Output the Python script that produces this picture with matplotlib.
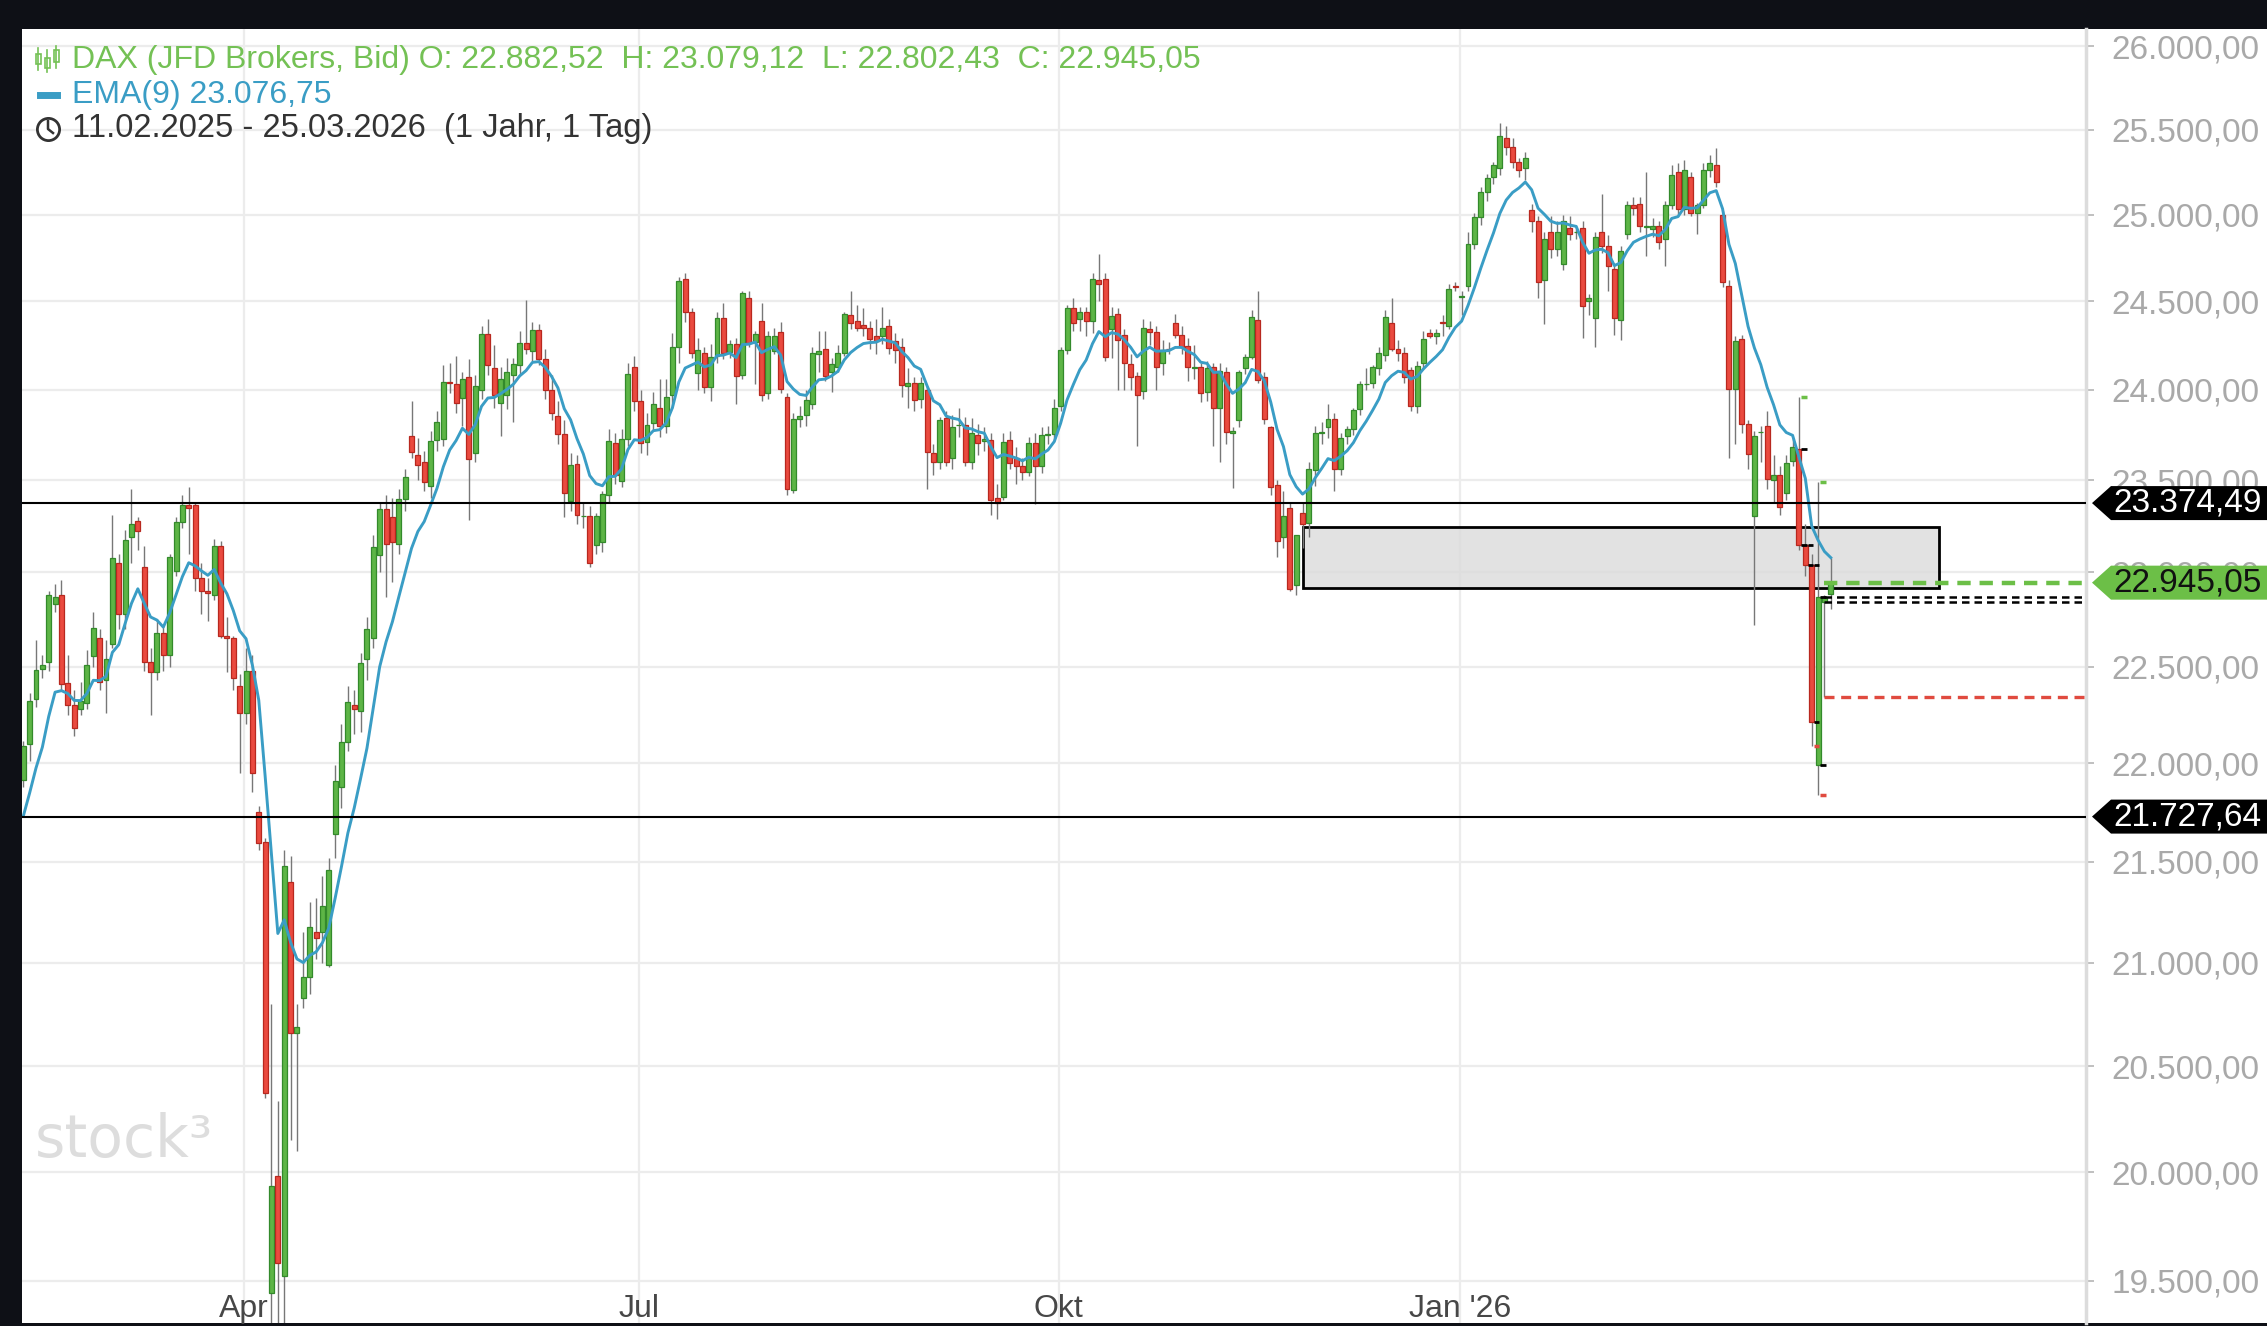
import numpy as np
import pandas as pd
import matplotlib
matplotlib.use("Agg")
import matplotlib.pyplot as plt
from matplotlib.patches import Rectangle, Polygon
from matplotlib.lines import Line2D
from matplotlib.ticker import FixedLocator, FuncFormatter, NullLocator
from matplotlib.transforms import blended_transform_factory

plt.rcParams['font.family'] = ['Liberation Sans', 'DejaVu Sans']

# daily candles 11.02.2025 - 25.03.2026 (10 per row)
opens = [
    21916, 22100, 22330, 22490, 22527, 22830, 22877, 22415, 22300, 22280,
    22310, 22555, 22650, 22430, 22620, 23050, 22778, 23190, 23275, 23030,
    22527, 22470, 22680, 22560, 23010, 23270, 23365, 23365, 22968, 22900,
    22880, 23140, 22660, 22650, 22400, 22260, 22480, 21750, 21600, 19443,
    19980, 19520, 21400, 20660, 20830, 20930, 21150, 21150, 20990, 21640,
    21880, 22110, 22300, 22270, 22540, 22650, 23092, 23343, 23300, 23154,
    23395, 23744, 23640, 23600, 23470, 23720, 23725, 24045, 24030, 23955,
    24070, 23650, 24000, 24315, 24120, 23925, 23970, 24085, 24140, 24265,
    24218, 24338, 24170, 24000, 23855, 23755, 23385, 23590, 23305, 23305,
    23145, 23165, 23416, 23705, 23495, 23725, 24125, 23935, 23710, 23815,
    23900, 23800, 23970, 24243, 24625, 24440, 24092, 24207, 24017, 24190,
    24403, 24212, 24260, 24080, 24520, 24270, 24390, 23980, 24220, 24325,
    23960, 23445, 23835, 23860, 23920, 24200, 24228, 24100, 24128, 24207,
    24420, 24385, 24365, 24350, 24300, 24300, 24360, 24277, 24240, 24020,
    24040, 23950, 23998, 23650, 23600, 23840, 23620, 23805, 23805, 23600,
    23750, 23715, 23720, 23400, 23410, 23720, 23622, 23580, 23545, 23705,
    23580, 23748, 23755, 23908, 24225, 24460, 24400, 24440, 24385, 24620,
    24630, 24345, 24430, 24310, 24147, 24075, 23994, 24340, 24325, 24150,
    24230, 24375, 24310, 24245, 24120, 24125, 23990, 24130, 23896, 24100,
    23760, 23832, 24120, 24185, 24395, 24073, 23790, 23472, 23190, 23350,
    22930, 23320, 23265, 23555, 23760, 23795, 23835, 23563, 23742, 23780,
    23890, 24035, 24040, 24120, 24195, 24375, 24230, 24205, 24110, 23910,
    24150, 24320, 24300, 24380, 24360, 24585, 24525, 24585, 24830, 24985,
    25134, 25221, 25275, 25452, 25398, 25307, 25275, 25025, 24963, 24620,
    24897, 24800, 24711, 24920, 24897, 24923, 24500, 24406, 24897, 24816,
    24683, 24395, 24885, 25055, 25060, 24930, 24915, 24935, 24856, 25058,
    25250, 25031, 25221, 25010, 25058, 25261, 25289, 25000, 24590, 24002,
    24288, 23811, 23304, 23765, 23800, 23500, 23530, 23429, 23606, 23670,
    23146, 23040, 21990, 22840, 22882.52,
]
highs = [
    22115, 22360, 22640, 22560, 22900, 22940, 22960, 22560, 22380, 22420,
    22590, 22790, 22700, 22640, 23310, 23100, 23230, 23450, 23300, 23140,
    22600, 22750, 22720, 23100, 23300, 23420, 23460, 23380, 23050, 22970,
    23180, 23170, 22760, 22660, 22460, 22600, 22560, 21780, 21620, 20800,
    20333, 21560, 21530, 20800, 21150, 21300, 21320, 21430, 21520, 21990,
    22200, 22400, 22380, 22570, 22760, 23200, 23380, 23420, 23400, 23450,
    23560, 23940, 23730, 23660, 23770, 23880, 24140, 24150, 24190, 24100,
    24170, 24080, 24360, 24400, 24250, 24130, 24180, 24180, 24330, 24510,
    24380, 24370, 24230, 24080, 23940, 23830, 23650, 23640, 23380, 23360,
    23320, 23440, 23780, 23760, 23780, 24150, 24190, 24000, 23870, 23990,
    24060, 24060, 24320, 24640, 24660, 24460, 24290, 24240, 24260, 24440,
    24490, 24280, 24290, 24560, 24560, 24330, 24490, 24330, 24350, 24380,
    23980, 23870, 23910, 24000, 24240, 24330, 24330, 24180, 24250, 24440,
    24560, 24480, 24460, 24390, 24400, 24470, 24400, 24320, 24290, 24120,
    24070, 24070, 24020, 23700, 23850, 23880, 23860, 23900, 23850, 23840,
    23810, 23790, 23760, 23480, 23760, 23770, 23680, 23620, 23740, 23760,
    23790, 23800, 23950, 24240, 24480, 24520, 24470, 24470, 24660, 24770,
    24660, 24470, 24460, 24340, 24200, 24100, 24400, 24390, 24360, 24280,
    24270, 24430, 24360, 24290, 24250, 24150, 24160, 24150, 24150, 24130,
    23790, 24110, 24200, 24450, 24560, 24100, 23800, 23500, 23440, 23380,
    23200, 23380, 23600, 23800, 23820, 23920, 23870, 23760, 23800, 23900,
    24050, 24120, 24140, 24240, 24450, 24520, 24280, 24240, 24130, 24160,
    24330, 24340, 24340, 24420, 24600, 24610, 24560, 24900, 25010, 25160,
    25240, 25310, 25540, 25520, 25450, 25330, 25370, 25060, 24990, 24900,
    24990, 24960, 25000, 24990, 24930, 24960, 24540, 24900, 25120, 24880,
    24720, 24820, 25080, 25100, 25100, 25250, 24980, 24960, 25080, 25290,
    25300, 25320, 25250, 25070, 25300, 25350, 25390, 25020, 24620, 24300,
    24310, 23830, 23770, 23800, 23880, 23640, 23580, 23640, 23730, 23960,
    23260, 23100, 23492, 22880, 23079.12,
]
lows = [
    21880, 22010, 22290, 22440, 22480, 22790, 22380, 22250, 22140, 22250,
    22280, 22500, 22380, 22260, 22600, 22700, 22700, 23050, 23120, 22480,
    22250, 22430, 22480, 22500, 22980, 23240, 23100, 22900, 22780, 22740,
    22850, 22650, 22470, 22380, 21950, 22200, 21850, 21560, 20350, 18800,
    19200, 19300, 20150, 20100, 20780, 20850, 21020, 21000, 20980, 21520,
    21770, 22060, 22150, 22160, 22430, 22600, 23000, 22870, 22950, 23100,
    23330, 23620, 23500, 23440, 23400, 23660, 23690, 23980, 23870, 23800,
    23280, 23600, 23950, 24080, 23900, 23745, 23890, 23820, 24080, 24200,
    24160, 24140, 23950, 23830, 23700, 23300, 23330, 23260, 23240, 23030,
    23100, 23110, 23380, 23480, 23460, 23690, 23880, 23650, 23640, 23770,
    23740, 23760, 23900, 24150, 24380, 24180, 24000, 23980, 23940, 24150,
    24170, 24180, 23920, 24060, 24240, 24030, 23940, 23950, 24200, 23980,
    23420, 23430, 23790, 23800, 23890, 24100, 24050, 23990, 24100, 24190,
    24340, 24330, 24300, 24230, 24200, 24260, 24200, 24150, 23960, 23900,
    23880, 23900, 23450, 23530, 23560, 23580, 23560, 23740, 23580, 23560,
    23640, 23660, 23310, 23290, 23390, 23560, 23480, 23500, 23520, 23370,
    23540, 23700, 23720, 23880, 24200, 24330, 24330, 24300, 24320, 24500,
    24160, 24180, 24000, 24000, 24000, 23686, 23950, 24250, 24000, 24080,
    24200, 24290, 24200, 24050, 24060, 23930, 23940, 23690, 23600, 23700,
    23455, 23790, 24090, 24170, 24040, 23810, 23420, 23080, 23130, 22900,
    22880, 23130, 23190, 23470, 23700, 23730, 23440, 23530, 23700, 23750,
    23860, 24000, 24010, 24080, 24160, 24220, 24160, 24040, 23880, 23870,
    24120, 24290, 24260, 24300, 24340, 24560, 24420, 24560, 24800, 24940,
    25080, 25180, 25230, 25350, 25270, 25220, 25200, 24900, 24520, 24370,
    24750, 24760, 24680, 24850, 24860, 24290, 24420, 24240, 24780, 24560,
    24310, 24280, 24860, 25000, 24900, 24760, 24870, 24800, 24700, 25030,
    24990, 25000, 24990, 24885, 25040, 25220, 25160, 24580, 23620, 23700,
    23760, 23560, 22720, 23600, 23450, 23380, 23310, 23390, 23580, 23120,
    22980, 22090, 21838, 22344, 22802.43,
]
closes = [
    22086, 22321, 22485, 22510, 22877, 22870, 22407, 22300, 22180, 22320,
    22510, 22702, 22420, 22540, 23078, 22778, 23173, 23262, 23225, 22527,
    22470, 22680, 22560, 23080, 23270, 23365, 23350, 22968, 22900, 22890,
    23140, 22660, 22650, 22440, 22260, 22480, 21950, 21595, 20372, 19935,
    19580, 21480, 20660, 20690, 20930, 21177, 21120, 21280, 21458, 21910,
    22110, 22315, 22280, 22520, 22700, 23135, 23343, 23154, 23164, 23395,
    23515, 23654, 23585, 23490, 23717, 23823, 24045, 24036, 23925, 24058,
    23617, 24020, 24315, 24140, 23970, 24060, 24100, 24145, 24265, 24228,
    24338, 24175, 24000, 23870, 23755, 23427, 23585, 23311, 23305, 23050,
    23305, 23422, 23717, 23530, 23725, 24090, 23940, 23703, 23804, 23920,
    23800, 23960, 24243, 24615, 24437, 24207, 24222, 24017, 24185, 24403,
    24205, 24255, 24077, 24549, 24265, 24315, 23970, 24302, 24302, 24007,
    23450, 23835, 23855, 23945, 24207, 24215, 24077, 24147, 24207, 24425,
    24375, 24350, 24350, 24287, 24277, 24350, 24232, 24225, 24026, 24040,
    23942, 24040, 23656, 23600, 23830, 23600, 23795, 23805, 23600, 23760,
    23705, 23725, 23394, 23375, 23712, 23596, 23578, 23545, 23705, 23580,
    23748, 23755, 23900, 24222, 24460, 24378, 24440, 24385, 24630, 24600,
    24182, 24415, 24280, 24150, 24070, 23970, 24350, 24325, 24125, 24225,
    24227, 24310, 24240, 24125, 24125, 23983, 24120, 23896, 24106, 23766,
    23770, 24100, 24185, 24410, 24054, 23837, 23463, 23170, 23305, 22913,
    23200, 23260, 23563, 23760, 23766, 23835, 23563, 23730, 23780, 23887,
    24032, 24035, 24125, 24205, 24410, 24230, 24205, 24070, 23910, 24132,
    24288, 24300, 24320, 24378, 24570, 24580, 24530, 24830, 24985, 25134,
    25215, 25289, 25460, 25398, 25307, 25261, 25330, 24963, 24608, 24856,
    24803, 24897, 24963, 24890, 24900, 24475, 24519, 24870, 24816, 24700,
    24406, 24790, 25058, 25040, 24935, 24935, 24935, 24843, 25058, 25234,
    25031, 25261, 25010, 25055, 25261, 25300, 25190, 24608, 24002, 24275,
    23811, 23645, 23745, 23765, 23505, 23530, 23354, 23594, 23683, 23146,
    23042, 22212, 22867, 22870, 22945.05,
]
ema_seed = 21640          # EMA value before the first candle

month_labels = ["Apr", "Jul", "Okt", "Jan '26"]
month_first = [35, 97, 163, 226]      # index of first candle in that month

price_ticks = [19500, 20000, 20500, 21000, 21500, 22000, 22500, 23000,
               23500, 24000, 24500, 25000, 25500, 26000]
resistance = 23374.49
support = 21727.64
zone_low, zone_high = 22918, 23246
zone_from, zone_to = 201, 301
tick_days = [279, 280, 281, 282]
high_tick_days = [279, 282]
low_tick_days = [281, 282]

o = np.array(opens, float)
h = np.array(highs, float)
l = np.array(lows, float)
c = np.array(closes, float)
n = len(c)
idx = np.arange(n)
ema = pd.Series([ema_seed] + closes).ewm(span=9, adjust=False).mean().values[1:]

W, H = 2267, 1326
def fx(x):
    return x / W
def fy(y):
    return 1 - y / H

def de(v, pos=None):
    s = f"{v:,.2f}"
    return s.replace(",", "X").replace(".", ",").replace("X", ".")

fig = plt.figure(figsize=(W / 100, H / 100), dpi=100, facecolor='#0e1016')
fig.add_artist(Rectangle((fx(22), fy(1323)), 1 - fx(22), (1323 - 29) / H,
                         transform=fig.transFigure, facecolor='white',
                         edgecolor='none', zorder=-1))

ax = fig.add_axes([fx(22), fy(1323), fx(2086 - 22), (1323 - 29) / H])
ax.set_facecolor('white')
ax.set_yscale('log')

GREEN, GREEN_E = '#5db546', '#338a2b'
RED, RED_E = '#ea4a3f', '#b8281f'

ax.vlines(idx, l, h, color='#777777', lw=1.0, zorder=2.8)
up = c >= o
bottom = np.minimum(o, c)
height = np.abs(c - o)
ax.bar(idx[up], height[up], bottom=bottom[up], width=0.78,
       color=GREEN, edgecolor=GREEN_E, lw=0.9, zorder=3)
ax.bar(idx[~up], height[~up], bottom=bottom[~up], width=0.78,
       color=RED, edgecolor=RED_E, lw=0.9, zorder=3)

ax.plot(idx, ema, color='#3a9dc5', lw=2.1, zorder=4, solid_joinstyle='round')

# zone box
ax.add_patch(Rectangle((zone_from, zone_low), zone_to - zone_from, zone_high - zone_low,
                       facecolor=(0.86, 0.86, 0.86, 0.8), edgecolor='black',
                       lw=2.0, zorder=2))

ax.axhline(resistance, color='black', lw=1.5, zorder=5)
ax.axhline(support, color='black', lw=1.5, zorder=5)

x_right = 324.1
ax.hlines(c[-1], n - 2, x_right, color='#6cbf47', lw=3.2, linestyles=(0, (3, 2)), zorder=5)
ax.hlines([o[-2], c[-2]], n - 2, x_right, color='black', lw=1.8, linestyles=(0, (3, 2)), zorder=5)
ax.hlines(l[-2], n - 2, x_right, color='#e04a3f', lw=2.4, linestyles=(0, (3, 2)), zorder=5)

# small OHLC ticks on the last sessions
for i in tick_days:
    ax.hlines([o[i], c[i]], i + 0.35, i + 1.2, color='black', lw=2, zorder=6)
for i in high_tick_days:
    ax.hlines(h[i], i + 0.35, i + 1.2, color='#6cbf47', lw=2.5, zorder=6)
for i in low_tick_days:
    ax.hlines(l[i], i + 0.35, i + 1.2, color='#e04a3f', lw=2.5, zorder=6)

ax.set_xlim(-0.2, x_right)
ax.set_ylim(19309, 26105)

ax.yaxis.tick_right()
ax.yaxis.set_major_locator(FixedLocator(price_ticks))
ax.yaxis.set_minor_locator(NullLocator())
ax.yaxis.set_major_formatter(FuncFormatter(de))
ax.tick_params(axis='y', length=6, width=1.2, color='#b5b5b5',
               labelcolor='#a9a9a9', labelsize=24, pad=12)

mpos = [m - 0.3 for m in month_first]
ax.set_xticks(mpos)
ax.set_xticklabels([])
ax.tick_params(axis='x', length=0)
ax.grid(True, color='#ececec', lw=1.6)
ax.set_axisbelow(True)
for s in ['top', 'left', 'bottom']:
    ax.spines[s].set_visible(False)
ax.spines['right'].set_color('#dcdcdc')
ax.spines['right'].set_linewidth(2.5)

tr = blended_transform_factory(ax.transData, ax.transAxes)
for p, lab in zip(mpos, month_labels):
    ax.text(p, 0.011, lab, transform=tr, ha='center', va='center',
            fontsize=23, color='#474747', zorder=7)

ax.text(0.0063, 0.128, 'stock³', transform=ax.transAxes, fontsize=42,
        color='#dddddd', family='DejaVu Sans', va='baseline', zorder=1)

# price boxes on the axis
def price_box(price, text, face, tc):
    yc = fig.transFigure.inverted().transform(ax.transData.transform((0, price)))[1]
    hh = 17 / H
    poly = Polygon([(fx(2092), yc), (fx(2111), yc + hh), (1, yc + hh),
                    (1, yc - hh), (fx(2111), yc - hh)], closed=True,
                   transform=fig.transFigure, facecolor=face, edgecolor='none', zorder=5)
    fig.add_artist(poly)
    fig.text(fx(2113), yc, text, color=tc, fontsize=24, va='center', ha='left', zorder=6)

price_box(resistance, de(resistance), 'black', 'white')
price_box(c[-1], de(c[-1]), '#6cbf47', '#111111')
price_box(support, de(support), 'black', 'white')

# legend block
LG = '#74c155'
fig.text(fx(72), fy(60), f"DAX (JFD Brokers, Bid) O: {de(o[-1])}  H: {de(h[-1])}  L: {de(l[-1])}  C: {de(c[-1])}",
         color=LG, fontsize=23, va='center', ha='left')
fig.text(fx(72), fy(95), f"EMA(9) {de(23076.75)}", color='#3a9dc5', fontsize=23,
         va='center', ha='left')
fig.text(fx(72), fy(129), "11.02.2025 - 25.03.2026  (1 Jahr, 1 Tag)", color='#333333',
         fontsize=23.5, va='center', ha='left')

for xx, y0, y1, b0, b1 in [(38, 48, 70, 54, 64), (47, 50, 72, 58, 68), (56, 46, 68, 50, 62)]:
    fig.add_artist(Line2D([fx(xx)] * 2, [fy(y0), fy(y1)], color=LG, lw=1.2,
                          transform=fig.transFigure))
    fig.add_artist(Rectangle((fx(xx - 2.5), fy(b1)), 5 / W, (b1 - b0) / H,
                             transform=fig.transFigure, facecolor='white',
                             edgecolor=LG, lw=1.2))
fig.add_artist(Line2D([fx(40), fx(57)], [fy(95)] * 2, color='#3a9dc5', lw=5,
                      transform=fig.transFigure))
fig.add_artist(Line2D([fx(48)], [fy(129)], marker='o', markersize=16,
                      markerfacecolor='white', markeredgecolor='#333333',
                      markeredgewidth=2, transform=fig.transFigure))
fig.add_artist(Line2D([fx(48), fx(48), fx(53)], [fy(121), fy(129), fy(133)],
                      color='#333333', lw=1.8, transform=fig.transFigure))

fig.savefig('out.png', dpi=100, facecolor=fig.get_facecolor())
